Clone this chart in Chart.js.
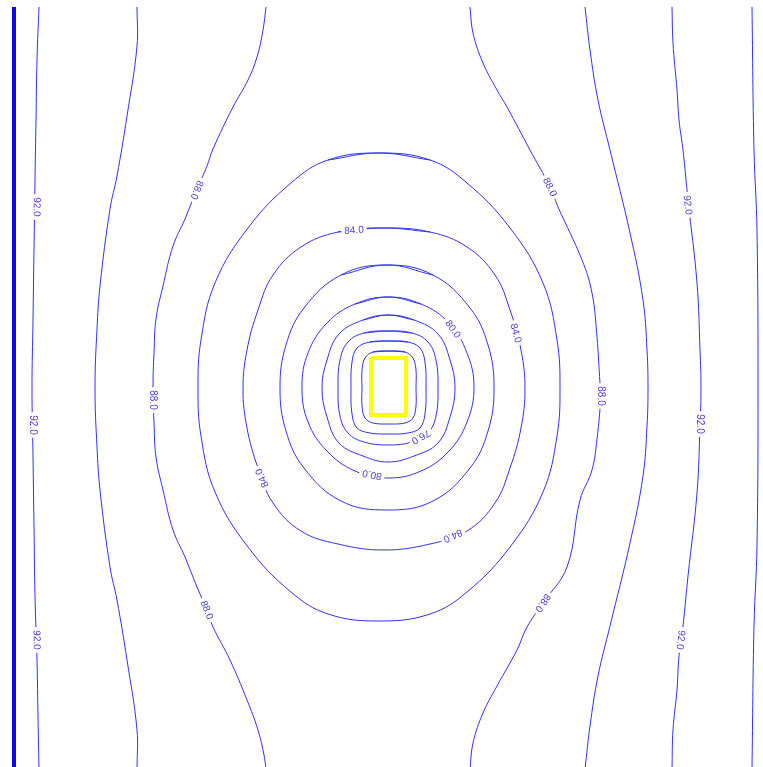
<!DOCTYPE html>
<html>
<head>
<meta charset="utf-8">
<title>Head contours around the pit</title>
<script src="https://cdn.jsdelivr.net/npm/chart.js@4.4.1/dist/chart.umd.min.js"></script>
<style>
  html, body { margin: 0; padding: 0; background: #ffffff; }
  #wrap { width: 763px; height: 767px; position: relative; }
</style>
</head>
<body>
<div id="wrap"><canvas id="plot"></canvas></div>
<script>
// Plan coordinates in metres (x to the east, y measured downward from the north edge).

// Closed head contours around the pit, one array per level.
const c72 = [[389,351],[405,352],[413,358],[416,370],[416,388],[416,406],[413,418],[405,423],[389,424],[373,423],[365,418],[362,406],[362,388],[362,370],[365,358],[373,352],[389,351]];
const c74 = [[389,341],[408,342],[420,348],[425,362],[426,388],[425,414],[420,428],[408,433],[389,434],[370,433],[357,428],[352,414],[351,388],[352,362],[357,348],[370,342],[389,341]];
const c76 = [[388,331],[412,333],[428,342],[436,360],[438,388],[436,416],[428,433],[412,442],[388,445],[364,442],[348,433],[340,416],[338,388],[340,360],[348,342],[364,333],[388,331]];
const c78 = [[388,315],[414,320],[438,334],[450,360],[455,388],[450,417],[438,443],[414,456],[388,462],[363,456],[339,443],[327,417],[322,388],[327,360],[339,334],[363,320],[388,315]];
const c80 = [[388,297],[421,304],[449,323],[467,353],[474,387],[467,422],[449,451],[421,471],[388,478],[355,471],[327,451],[308,422],[302,387],[308,353],[327,323],[355,304],[388,297]];
const c82 = [[387,265],[433,275],[470,308],[488,345],[494,388],[488,431],[470,468],[433,501],[387,510],[341,501],[304,468],[286,431],[280,388],[286,345],[304,308],[341,275],[387,265]];
const c84 = [[384,228],[430,232],[467,247],[495,275],[510,310],[521,350],[525,389],[521,428],[510,468],[495,503],[467,531],[430,544],[384,550],[338,544],[301,531],[273,503],[258,468],[247,428],[243,389],[247,350],[258,310],[273,275],[301,247],[338,232],[384,228]];
const c86 = [[379,153],[430,160],[467,183],[510,228],[543,283],[557,340],[560,388],[557,436],[543,492],[510,547],[467,592],[430,614],[379,621],[328,614],[291,592],[248,547],[215,492],[201,436],[198,388],[201,340],[215,283],[248,228],[291,183],[328,160],[379,153]];

// Open contours running from the north edge to the south edge.
const w92 = [[39,7],[37,60],[36,120],[35,180],[34,250],[33,320],[32,388],[33,456],[34,526],[35,596],[37,660],[38,717],[39,769]];
const w90 = [[137,7],[137,46],[127,116],[117,176],[110,209],[100,286],[97,329],[95,388],[97,447],[100,490],[110,567],[117,600],[127,660],[137,730],[137,769]];
const w88 = [[266,7],[263,30],[257,57],[248,80],[233,107],[213,149],[207,166],[197,189],[185,219],[173,246],[163,286],[156,319],[154,353],[153,388],[154,423],[156,457],[163,490],[173,530],[185,557],[197,587],[207,610],[213,627],[230,660],[247,700],[258,730],[264,755],[266,769]];
const e88 = [[470,7],[473,33],[483,63],[497,90],[507,107],[530,150],[550,187],[558,207],[582,260],[592,293],[597,337],[600,383],[601,393],[597,439],[592,470],[580,500],[567,567],[543,603],[527,627],[517,650],[497,686],[483,713],[473,743],[470,769]];
const e90 = [[585,7],[590,50],[598,100],[610,150],[630,233],[643,300],[647,350],[648,388],[647,426],[643,476],[630,543],[610,626],[598,676],[590,726],[585,769]];
const e92 = [[672,7],[673,43],[677,90],[679,120],[683,150],[688,200],[697,283],[700,350],[701,388],[700,426],[697,493],[688,576],[683,626],[679,656],[677,690],[673,730],[672,769]];
const e94 = [[752,7],[754,150],[757,230],[758,388],[757,546],[754,626],[752,769]];

// Fixed-head boundary on the west side and the pit outline.
const riverBoundary = [[14,7],[14,769]];
const pitOutline = [[371,358],[406,358],[406,415],[371,415],[371,358]];

// Contour labels: [level, x, y, text angle in degrees].
const contourLabels = [
  [92, 37, 207, 91], [92, 33, 425, 90], [92, 37, 640, 89],
  [92, 688, 205, 84], [92, 700, 424, 90], [92, 681, 640, 96],
  [88, 197, 190, 112], [88, 153, 400, 90], [88, 207, 610, 68],
  [88, 550, 187, 64], [88, 601, 396, 90], [88, 543, 603, 124],
  [84, 354, 230, -4], [84, 516, 333, 74], [84, 453, 536, 155], [84, 262, 478, -113],
  [80, 453, 329, 55], [80, 372, 475, 192],
  [76, 421, 437, 151]
];

const LINE = '#3030ff';
const toPts = arr => arr.map(p => ({ x: p[0], y: p[1] }));
// A closed ring repeats its first vertex; wrapping one neighbour onto each end
// lets the spline pass smoothly through the seam.
const ring = arr => [arr[arr.length - 2], ...arr, arr[1]];
const contour = (arr, tension) => ({
  data: toPts(arr), showLine: true, borderColor: LINE, borderWidth: 1,
  pointRadius: 0, tension: tension, fill: false
});

const datasets = [
  contour(ring(c72), 0.35), contour(ring(c74), 0.38), contour(ring(c76), 0.4), contour(ring(c78), 0.4),
  contour(ring(c80), 0.4), contour(ring(c82), 0.4), contour(ring(c84), 0.4), contour(ring(c86), 0.4),
  contour(w92, 0.4), contour(w90, 0.4), contour(w88, 0.4),
  contour(e88, 0.4), contour(e90, 0.4), contour(e92, 0.4), contour(e94, 0.4),
  { data: toPts(riverBoundary), showLine: true, borderColor: '#0a0ae6', borderWidth: 4, pointRadius: 0, tension: 0 },
  { data: toPts(pitOutline), showLine: true, borderColor: '#ffff00', borderWidth: 4, pointRadius: 0, tension: 0 }
];

// Draws the level values along the contours, breaking the line beneath each label.
const labelPlugin = {
  id: 'contourLabels',
  afterDatasetsDraw(chart) {
    const ctx = chart.ctx;
    const xs = chart.scales.x, ys = chart.scales.y;
    ctx.save();
    ctx.font = '10px "Liberation Sans", Arial, sans-serif';
    ctx.textAlign = 'center';
    ctx.textBaseline = 'middle';
    contourLabels.forEach(([level, x, y, deg]) => {
      const text = level.toFixed(1);
      const px = xs.getPixelForValue(x);
      const py = ys.getPixelForValue(y);
      const w = ctx.measureText(text).width;
      ctx.save();
      ctx.translate(px, py);
      ctx.rotate(deg * Math.PI / 180);
      ctx.fillStyle = '#ffffff';
      ctx.fillRect(-w / 2 - 3, -5, w + 6, 10);
      ctx.fillStyle = '#4a3ee0';
      ctx.fillText(text, 0, 0.5);
      ctx.restore();
    });
    ctx.restore();
  }
};

new Chart(document.getElementById('plot'), {
  type: 'scatter',
  data: { datasets },
  options: {
    responsive: true,
    maintainAspectRatio: false,
    animation: false,
    layout: { padding: 0 },
    plugins: { legend: { display: false }, tooltip: { enabled: false } },
    scales: {
      x: { type: 'linear', min: 0, max: 763, display: false },
      y: { type: 'linear', min: 0, max: 767, reverse: true, display: false }
    }
  },
  plugins: [labelPlugin]
});
</script>
</body>
</html>
